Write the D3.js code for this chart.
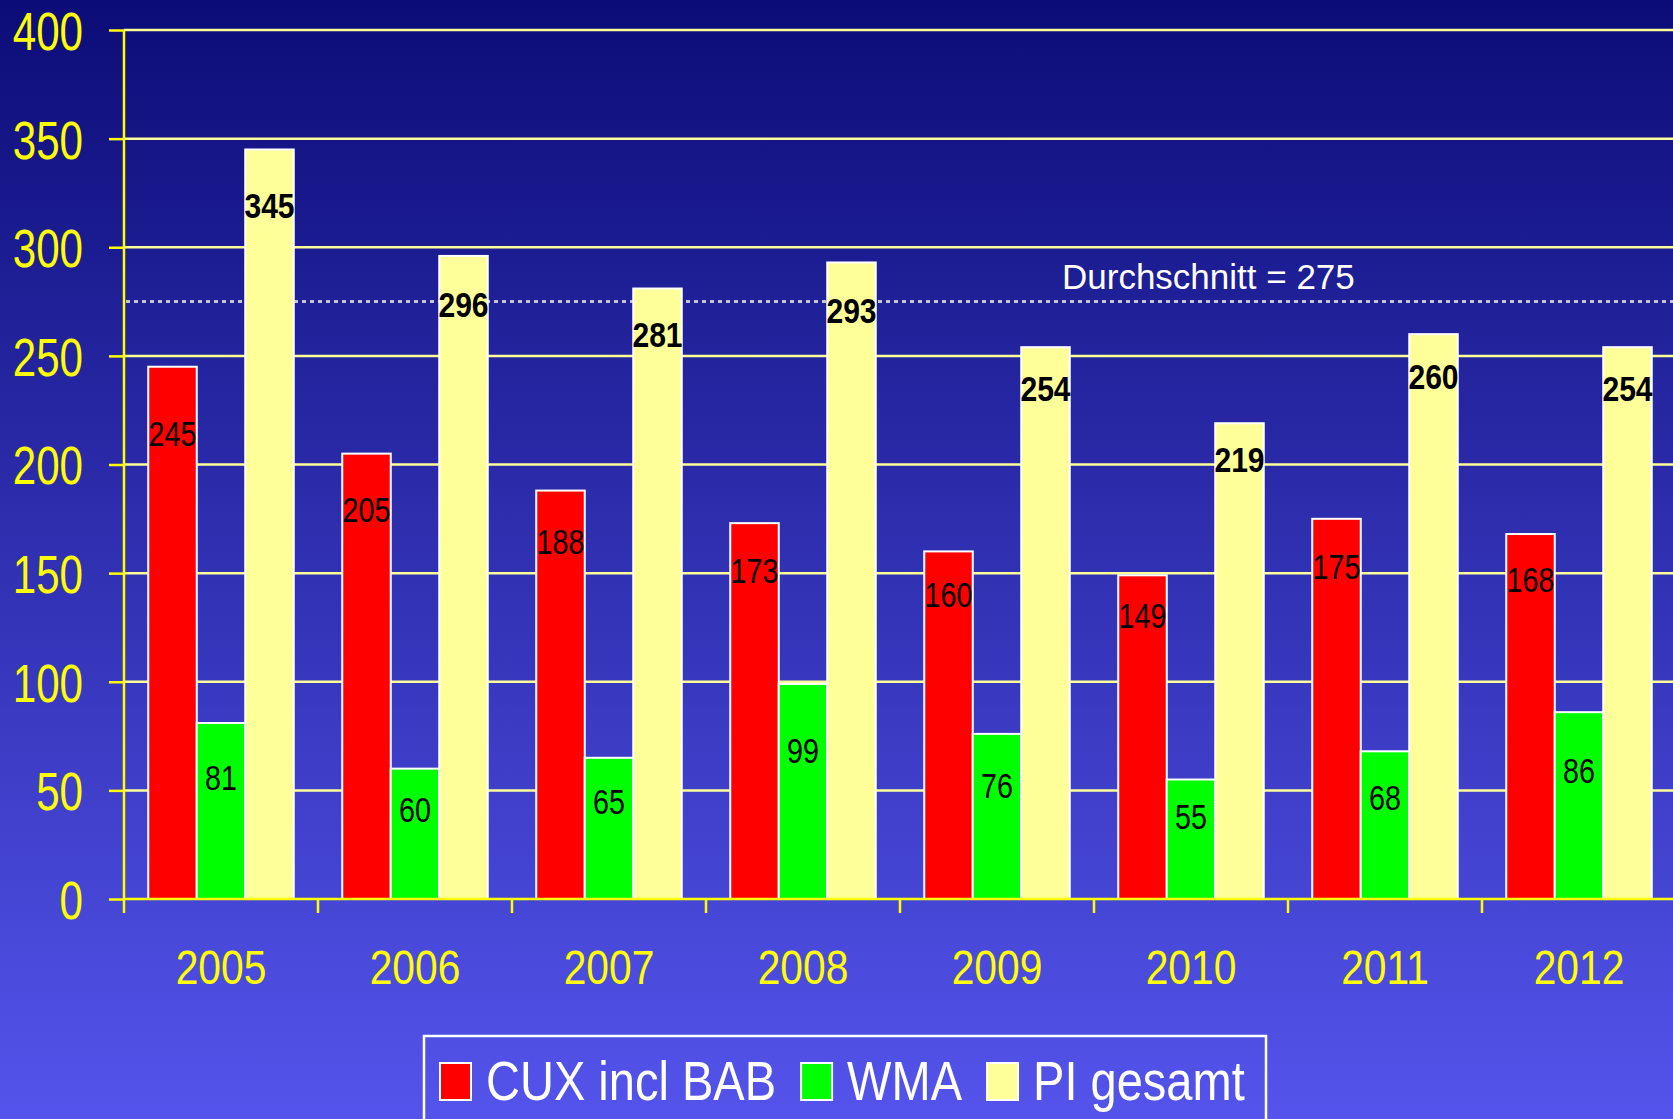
<!DOCTYPE html>
<html>
<head>
<meta charset="utf-8">
<script src="https://cdn.jsdelivr.net/npm/d3@7"></script>
<style>
  body { margin: 0; overflow: hidden; }
  svg { display: block; }
  text { font-family: "Liberation Sans", Arial, sans-serif; }
</style>
</head>
<body>
<script>
/*
 * Grouped bar chart: CUX incl BAB / WMA / PI gesamt, 2005 - 2012,
 * with a dotted line for the average of PI gesamt.
 */

const years = ['2005', '2006', '2007', '2008', '2009', '2010', '2011', '2012'];
const cuxValues = [245, 205, 188, 173, 160, 149, 175, 168];
const wmaValues = [81, 60, 65, 99, 76, 55, 68, 86];
const piValues = [345, 296, 281, 293, 254, 219, 260, 254];
const seriesNames = ['CUX incl BAB', 'WMA', 'PI gesamt'];
const yTicks = [0, 50, 100, 150, 200, 250, 300, 350, 400];
const average = 275;
const averageLabel = 'Durchschnitt = 275';

// colours and label styles per series
const seriesStyle = [
  { color: '#ff0000', bold: false, labelAt: 0.875 },
  { color: '#00ff00', bold: false, labelAt: 0.69 },
  { color: '#ffff99', bold: true, labelAt: 0.925 }
];

const width = 1673;
const height = 1119;
const margin = { left: 124, top: 30, bottom: 899 };
const bandStep = 194;

const svg = d3.select('body')
  .append('svg')
    .attr('width', width)
    .attr('height', height);

// background gradient
const grad = svg.append('defs')
  .append('linearGradient')
    .attr('id', 'bg')
    .attr('x1', 0).attr('y1', 0)
    .attr('x2', 0).attr('y2', 1);
grad.append('stop').attr('offset', '0%').attr('stop-color', '#0c0c78');
grad.append('stop').attr('offset', '100%').attr('stop-color', '#5454ec');

svg.append('rect')
    .attr('width', width)
    .attr('height', height)
    .attr('fill', 'url(#bg)');

// scales
const x = d3.scaleBand()
    .domain(years)
    .range([margin.left, margin.left + bandStep * years.length]);

const xSub = d3.scaleBand()
    .domain(seriesNames)
    .range([0, x.bandwidth()])
    .paddingOuter(0.5);

const y = d3.scaleLinear()
    .domain([0, 400])
    .range([margin.bottom, margin.top]);

// gridlines
svg.append('g')
  .selectAll('line')
  .data(yTicks.filter(d => d > 0))
  .enter()
  .append('line')
    .attr('x1', margin.left)
    .attr('x2', width)
    .attr('y1', d => y(d))
    .attr('y2', d => y(d))
    .attr('stroke', '#ffff99')
    .attr('stroke-width', 2.5);

// average line
svg.append('line')
    .attr('x1', margin.left + 2)
    .attr('x2', width)
    .attr('y1', y(average))
    .attr('y2', y(average))
    .attr('stroke', '#c4c4d4')
    .attr('stroke-width', 3)
    .attr('stroke-dasharray', '4,4');

svg.append('text')
    .attr('x', 1062)
    .attr('y', y(average) - 13)
    .attr('fill', '#ffffff')
    .attr('font-size', 35)
    .text(averageLabel);

// bars
const table = years.map((year, i) => ({
  year,
  values: [cuxValues[i], wmaValues[i], piValues[i]]
}));

const groups = svg.append('g')
  .selectAll('g')
  .data(table)
  .enter()
  .append('g')
    .attr('transform', d => `translate(${x(d.year)},0)`);

groups.selectAll('rect')
  .data(d => d.values.map((v, k) => ({ v, k })))
  .enter()
  .append('rect')
    .attr('x', d => xSub(seriesNames[d.k]))
    .attr('y', d => y(d.v))
    .attr('width', xSub.bandwidth())
    .attr('height', d => y(0) - y(d.v))
    .attr('fill', d => seriesStyle[d.k].color)
    .attr('stroke', '#ffffff')
    .attr('stroke-width', 2);

// value labels
groups.selectAll('text')
  .data(d => d.values.map((v, k) => ({ v, k })))
  .enter()
  .append('text')
    .attr('transform', d => {
      const cx = xSub(seriesNames[d.k]) + xSub.bandwidth() / 2;
      const cy = y(d.v * seriesStyle[d.k].labelAt);
      const sx = seriesStyle[d.k].bold ? 0.86 : 0.82;
      return `translate(${cx},${cy}) scale(${sx},1)`;
    })
    .attr('text-anchor', 'middle')
    .attr('dy', '0.36em')
    .attr('font-size', 35)
    .attr('font-weight', d => seriesStyle[d.k].bold ? 'bold' : 'normal')
    .attr('fill', '#000000')
    .text(d => d.v);

// y axis
const yAxis = d3.axisLeft(y)
    .tickValues(yTicks)
    .tickSize(15)
    .tickFormat(d3.format('d'));

const yAxisG = svg.append('g')
    .attr('transform', `translate(${margin.left},0)`)
    .call(yAxis);

yAxisG.select('.domain').remove();
yAxisG.selectAll('.tick line')
    .attr('stroke', '#ffff00')
    .attr('stroke-width', 2.5);
yAxisG.selectAll('.tick text')
    .attr('x', 0)
    .attr('dy', '0.36em')
    .attr('transform', 'translate(-41,0) scale(0.78,1)')
    .attr('fill', '#ffff00')
    .attr('font-size', 54);

svg.append('line')
    .attr('x1', margin.left)
    .attr('x2', margin.left)
    .attr('y1', margin.top)
    .attr('y2', y(0) + 14)
    .attr('stroke', '#ffff00')
    .attr('stroke-width', 2.5);

// x axis
svg.append('line')
    .attr('x1', margin.left)
    .attr('x2', width)
    .attr('y1', y(0))
    .attr('y2', y(0))
    .attr('stroke', '#ffff00')
    .attr('stroke-width', 2.5);

svg.append('g')
  .selectAll('line')
  .data(years.slice(1))
  .enter()
  .append('line')
    .attr('x1', d => x(d))
    .attr('x2', d => x(d))
    .attr('y1', y(0))
    .attr('y2', y(0) + 14)
    .attr('stroke', '#ffff00')
    .attr('stroke-width', 2.5);

const xAxisG = svg.append('g')
    .attr('transform', `translate(0,${y(0)})`)
    .call(d3.axisBottom(x).tickSize(0));

xAxisG.select('.domain').remove();
xAxisG.selectAll('.tick text')
    .attr('y', 0)
    .attr('dy', 0)
    .attr('transform', 'translate(0,85) scale(0.85,1)')
    .attr('fill', '#ffff00')
    .attr('font-size', 48);

// legend
const legend = svg.append('g');

legend.append('rect')
    .attr('x', 424)
    .attr('y', 1036)
    .attr('width', 842)
    .attr('height', 120)
    .attr('fill', 'none')
    .attr('stroke', '#ffffff')
    .attr('stroke-width', 2.5);

let cursor = 440;
seriesNames.forEach((name, k) => {
  legend.append('rect')
      .attr('x', cursor)
      .attr('y', 1063)
      .attr('width', 31)
      .attr('height', 37)
      .attr('fill', seriesStyle[k].color)
      .attr('stroke', '#ffffff')
      .attr('stroke-width', 2);

  const label = legend.append('text')
      .attr('transform', `translate(${cursor + 46},1100) scale(0.84,1)`)
      .attr('fill', '#ffffff')
      .attr('font-size', 56)
      .text(name);

  cursor += 46 + label.node().getComputedTextLength() * 0.84 + 25;
});
</script>
</body>
</html>
